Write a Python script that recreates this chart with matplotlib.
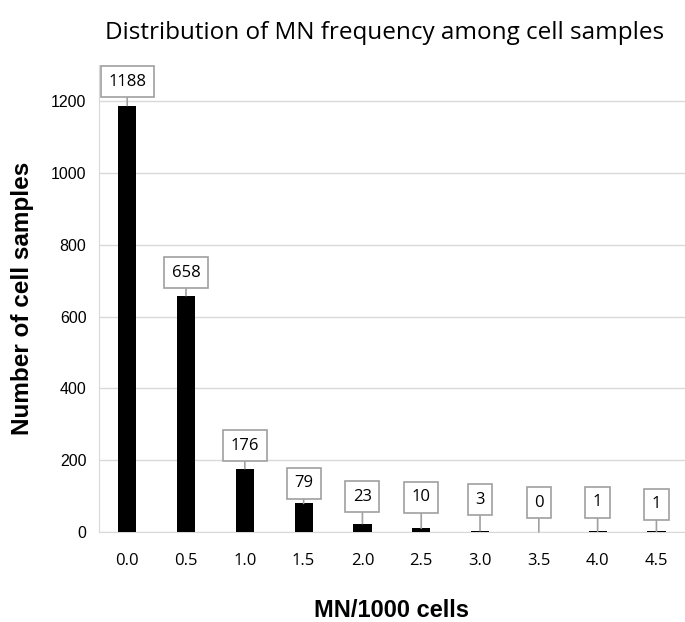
import numpy as np
import matplotlib.pyplot as plt

# data
mn_bins = ["0.0", "0.5", "1.0", "1.5", "2.0", "2.5", "3.0", "3.5", "4.0", "4.5"]
n_samples = [1188, 658, 176, 79, 23, 10, 3, 0, 1, 1]

# label box offsets above the bar top (pixels)
label_off = [24, 23, 23, 20, 27, 31, 31, 29, 29, 27]

fig = plt.figure(figsize=(6.85, 6.22), dpi=100)
ax = fig.add_axes([0.1445, 0.145, 0.855, 0.75])

x = np.arange(len(mn_bins))
ax.bar(x, n_samples, width=0.31, color="black", zorder=3)

ax.set_xlim(-0.48, len(mn_bins) - 0.52)
ax.set_ylim(0, 1300)
ax.set_yticks(np.arange(0, 1201, 200))
ax.set_xticks(x)
ax.set_xticklabels(mn_bins)
ax.tick_params(length=0)
ax.tick_params(axis="x", pad=15, labelsize=12)
ax.tick_params(axis="y", pad=9, labelsize=11.5)
for lab in ax.get_xticklabels():
    lab.set_family("Open Sans")
for lab in ax.get_yticklabels():
    lab.set_family("Liberation Sans")

ax.grid(axis="y", color="#d9d9d9", linewidth=1, zorder=0)
for s in ["top", "right"]:
    ax.spines[s].set_visible(False)
ax.spines["left"].set_color("#d9d9d9")
ax.spines["bottom"].set_color("#d9d9d9")

for xi, v, off in zip(x, n_samples, label_off):
    ax.annotate(str(v), xy=(xi, v), xytext=(0, off * 72 / 100), textcoords="offset points",
                ha="center", va="center", fontsize=12, family="Open Sans",
                bbox=dict(boxstyle="square,pad=0.45", fc="white", ec="#a0a0a0", lw=1.2),
                arrowprops=dict(arrowstyle="-", color="#a0a0a0", lw=1.2, shrinkA=0, shrinkB=0),
                zorder=4)

ax.set_ylabel("Number of cell samples", fontsize=17.5, fontweight="bold",
              family="Liberation Sans", labelpad=12)
ax.set_xlabel("MN/1000 cells", fontsize=17, fontweight="bold",
              family="Liberation Sans", labelpad=22)
fig.text(0.561, 0.947, "Distribution of MN frequency among cell samples",
         ha="center", va="center", fontsize=17.5, family="Open Sans")

fig.savefig("out.png", dpi=100)
